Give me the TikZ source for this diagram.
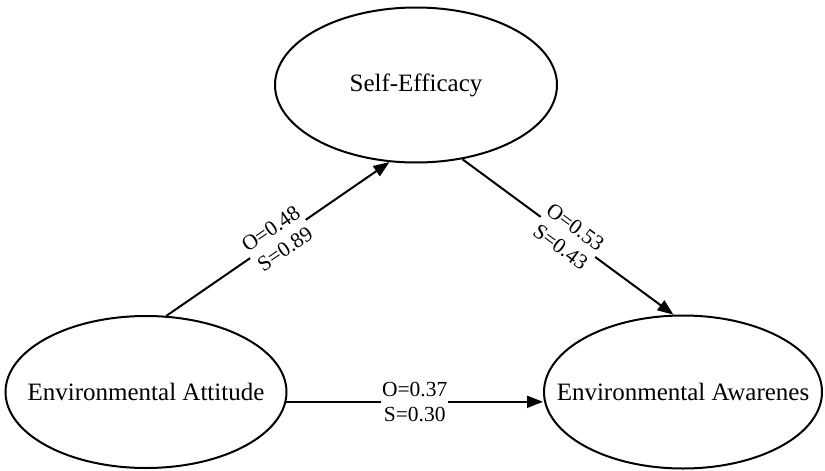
\documentclass[tikz,border=0pt]{standalone}
\usepackage{fontspec}
\setmainfont{Liberation Serif}
\usetikzlibrary{shapes.geometric,arrows.meta}
\tikzset{
  var-node/.style={
    ellipse,
    draw=black,
    line width=2pt,
    inner sep=0pt,
    label={[font=\fontsize{25}{30}\selectfont]center:#1}
  },
  path-line/.style={
    line width=2pt,
    -{Triangle[length=16pt,width=12pt]}
  },
  path-label/.style={
    fill=white,
    inner xsep=1pt,
    inner ysep=0pt,
    align=center,
    font=\fontsize{21.5}{25}\selectfont
  }
}

\begin{document}
\begin{tikzpicture}[x=1pt,y=-1pt]
  \useasboundingbox (0,0) rectangle (825,471);
  % constructs
  \node[var-node=Self-Efficacy, minimum width=282pt, minimum height=155pt] (self) at (416,85) {};
  \node[var-node=Environmental Attitude, minimum width=281pt, minimum height=152pt] (att) at (146,392) {};
  \node[var-node=Environmental Awarenes, minimum width=278pt, minimum height=153pt] (aware) at (683,392) {};
  % paths
  \draw[path-line] (att.75) -- node[path-label, sloped] {O=0.48\\S=0.89} (self.251);
  \draw[path-line] (self.302) -- node[path-label, sloped] {O=0.53\\S=0.43} (aware.97);
  \draw[path-line] (att.-4) -- node[path-label] {O=0.37\\S=0.30} (att.-4 -| aware.west);
\end{tikzpicture}
\end{document}
